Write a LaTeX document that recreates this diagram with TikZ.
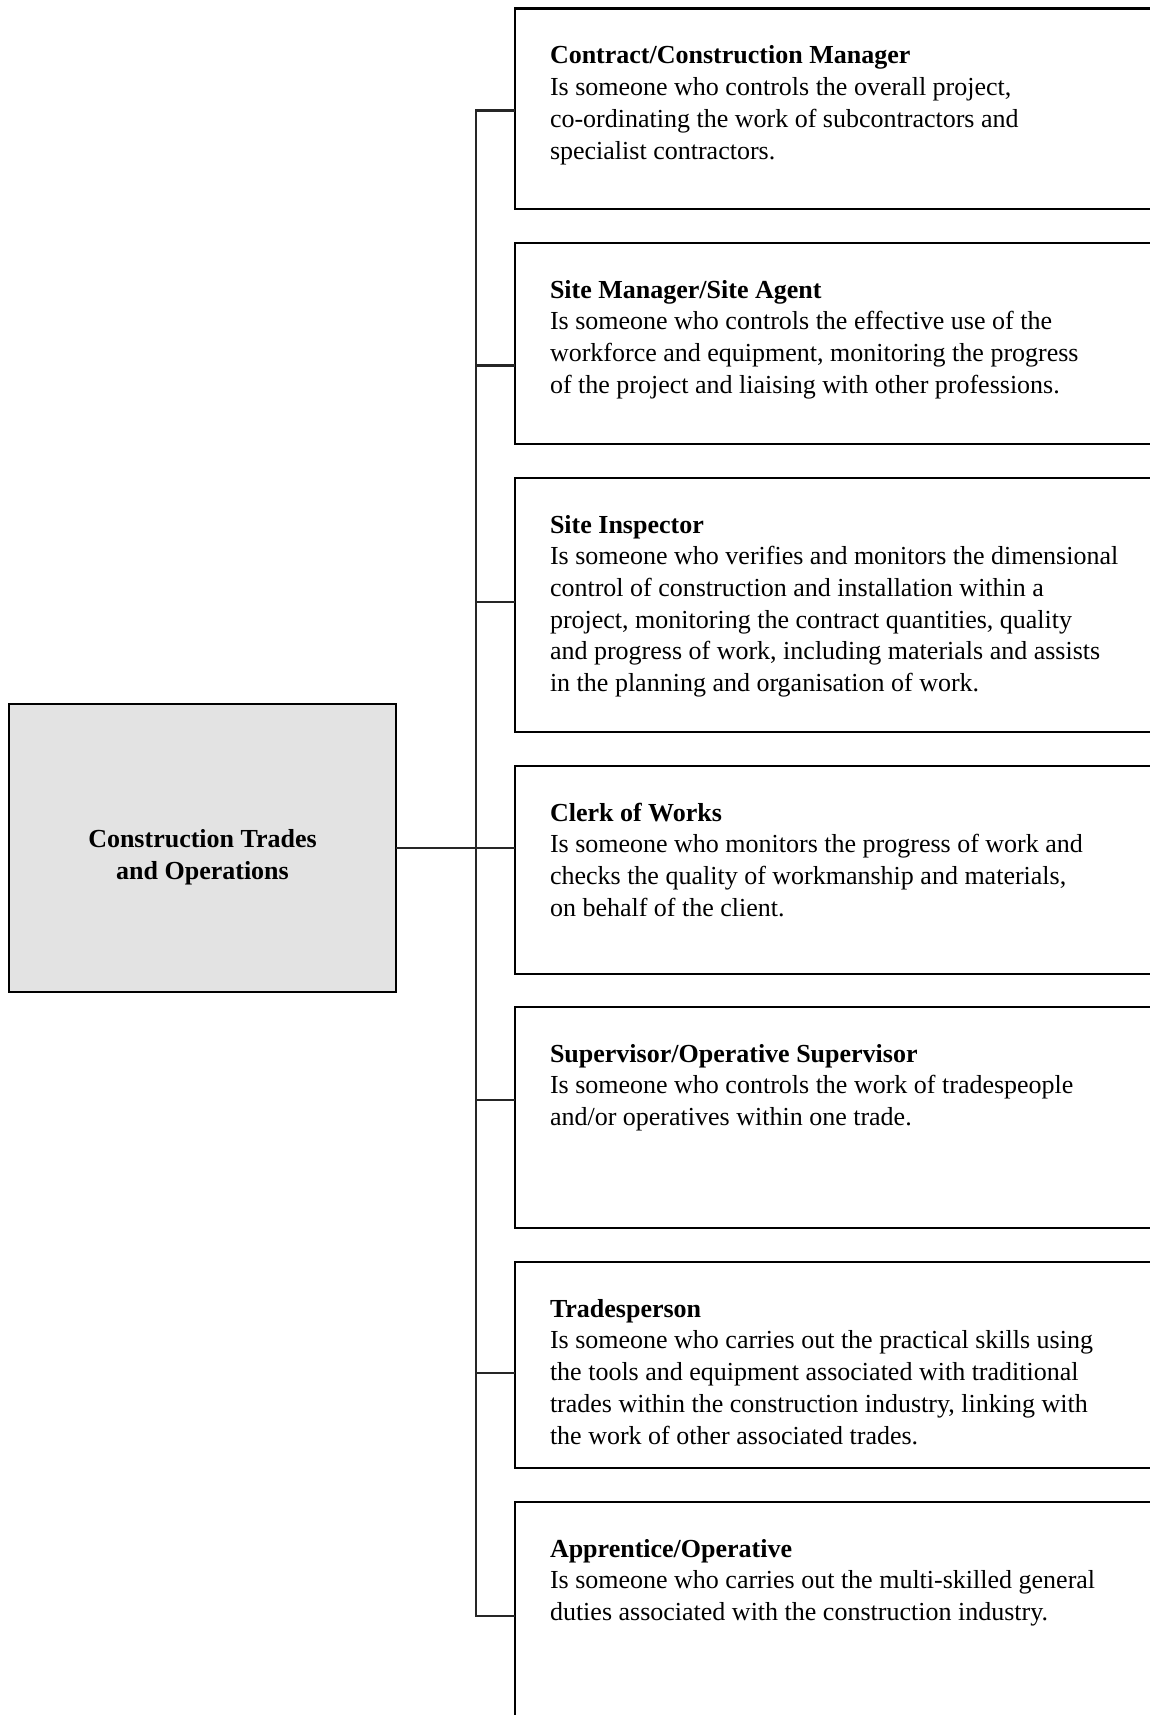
\documentclass[tikz,border=0pt]{standalone}
\usepackage{fontspec}
\setmainfont{Liberation Serif}
\begin{document}
\begin{tikzpicture}[x=1pt,y=-1pt,
  rolebox/.style={draw=black,line width=2.8pt,rectangle,anchor=north west,outer sep=0pt,inner sep=0pt,minimum width=720pt},
  roletext/.style={anchor=north west,inner sep=0pt,outer sep=0pt,align=left,font=\fontsize{26}{31.7}\selectfont},
  mainbox/.style={draw=black,line width=2.8pt,fill=black!11,rectangle,outer sep=0pt,inner sep=0pt,minimum width=387pt,minimum height=288pt},
  maintext/.style={inner sep=0pt,align=center,font=\fontsize{26}{31.7}\selectfont\bfseries},
  link/.style={draw=black!85,line width=2.2pt}]
\useasboundingbox (0,0) rectangle (1150,1715);
\clip (0,0) rectangle (1150,1715);
\node[mainbox] (c) at (202.5,848) {};
\node[maintext] (ct) at ([shift={(0,9)}]c.center) {Construction Trades\\and Operations};
\node[rolebox,minimum height=200.25pt] (b1) at (515,8.75) {};
\node[rolebox,minimum height=201pt] (b2) at (515,243) {};
\node[rolebox,minimum height=254pt] (b3) at (515,478) {};
\node[rolebox,minimum height=208pt] (b4) at (515,766) {};
\node[rolebox,minimum height=221pt] (b5) at (515,1007) {};
\node[rolebox,minimum height=206pt] (b6) at (515,1262) {};
\node[rolebox,minimum height=300pt] (b7) at (515,1502) {};
\node[roletext] (t1) at ([shift={(35,33)}]b1.north west) {\strut\textbf{Contract/Construction Manager}\\Is someone who controls the overall project,\\co-ordinating the work of subcontractors and\\specialist contractors.};
\node[roletext] (t2) at ([shift={(35,33)}]b2.north west) {\strut\textbf{Site Manager/Site Agent}\\Is someone who controls the effective use of the\\workforce and equipment, monitoring the progress\\of the project and liaising with other professions.};
\node[roletext] (t3) at ([shift={(35,33)}]b3.north west) {\strut\textbf{Site Inspector}\\Is someone who verifies and monitors the dimensional\\control of construction and installation within a\\project, monitoring the contract quantities, quality\\and progress of work, including materials and assists\\in the planning and organisation of work.};
\node[roletext] (t4) at ([shift={(35,33)}]b4.north west) {\strut\textbf{Clerk of Works}\\Is someone who monitors the progress of work and\\checks the quality of workmanship and materials,\\on behalf of the client.};
\node[roletext] (t5) at ([shift={(35,33)}]b5.north west) {\strut\textbf{Supervisor/Operative Supervisor}\\Is someone who controls the work of tradespeople\\and/or operatives within one trade.};
\node[roletext] (t6) at ([shift={(35,33)}]b6.north west) {\strut\textbf{Tradesperson}\\Is someone who carries out the practical skills using\\the tools and equipment associated with traditional\\trades within the construction industry, linking with\\the work of other associated trades.};
\node[roletext] (t7) at ([shift={(35,33)}]b7.north west) {\strut\textbf{Apprentice/Operative}\\Is someone who carries out the multi-skilled general\\duties associated with the construction industry.};
\coordinate (s1) at (476,110.5);
\coordinate (s2) at (476,365.5);
\coordinate (s3) at (476,602);
\coordinate (s5) at (476,1100);
\coordinate (s6) at (476,1373);
\coordinate (s7) at (476,1616);
\draw[link] (s1 -| b1.west) -- (s1) -- (s7) -- (s7 -| b7.west);
\draw[link] (c.east) -- (c.east -| b4.west);
\foreach \i in {2,3,5,6} {\draw[link] (s\i) -- (s\i -| b\i.west);}
\end{tikzpicture}
\end{document}
